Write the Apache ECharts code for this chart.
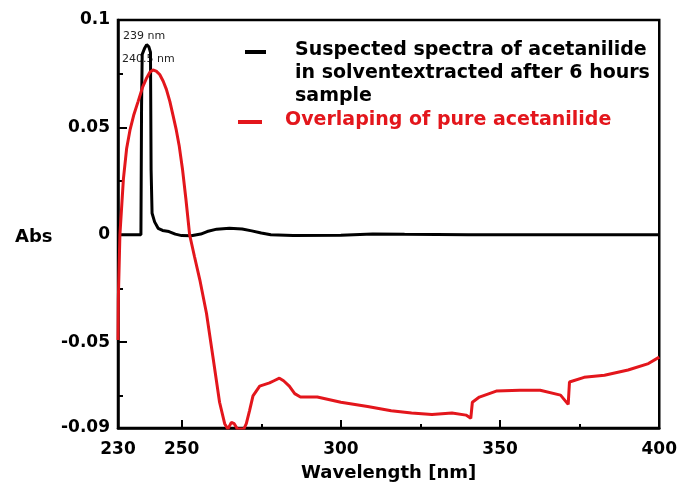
<!DOCTYPE html>
<html><head><meta charset="utf-8">
<script src="https://cdn.jsdelivr.net/npm/echarts@6/dist/echarts.min.js"></script>
<style>html,body{margin:0;padding:0;background:#fff}#c{width:680px;height:487px}</style>
</head><body><div id="c"></div>
<script>
// ---- data ----
const seriesNames = [
  'Suspected spectra of acetanilide in solventextracted after 6 hours sample',
  'Overlaping of pure acetanilide'
];
const legendLines1 = ['Suspected spectra of acetanilide', 'in solventextracted after 6 hours', 'sample'];
const legendLine2 = 'Overlaping of pure acetanilide';
const peakLabels = ['239 nm', '240.5 nm'];
const xTickLabels = [230, 250, 300, 350, 400];
const xMinorTicks = [275, 325, 375];
const yTickLabels = [0.1, 0.05, 0, -0.05, -0.09];
const yMinorTicks = [0.075, 0.025, -0.025, -0.075];

const suspected = [
  [230,0],[237.2,0],[237.4,0.06],[237.6,0.084],[238.4,0.087],[239,0.0885],[239.7,0.0875],[240.2,0.085],
  [240.4,0.03],[240.7,0.01],[241.5,0.006],[242.6,0.003],[244,0.002],[246,0.0015],[248,0.0003],[250,-0.0004],
  [253,-0.0005],[256,0.0003],[258,0.0015],[261,0.0026],[265,0.003],[269,0.0027],[272,0.0018],[275,0.0008],
  [278,0],[285,-0.0004],[300,-0.0002],[310,0.0004],[320,0.0002],[340,0],[360,0],[380,0],[400,0]
];
const pure = [
  [230,-0.049],[230.1,-0.03],[230.6,0],[231.7,0.026],[232.7,0.04],[233.8,0.049],[235,0.056],[236.3,0.062],
  [237.8,0.069],[239,0.073],[240,0.0757],[241,0.0767],[242,0.0762],[243.1,0.0746],[244.2,0.0715],[245.2,0.0677],
  [246.3,0.062],[247.3,0.0555],[248.3,0.0488],[249.2,0.0416],[250.3,0.03],[251.3,0.017],[252.5,0],[254,-0.01],
  [255.7,-0.021],[257.8,-0.0367],[259.8,-0.0567],[261.9,-0.078],[263.5,-0.088],[264.5,-0.0905],[265.6,-0.0874],
  [266.5,-0.088],[267.5,-0.0905],[269.5,-0.0905],[270.3,-0.088],[271.3,-0.082],[272.4,-0.075],[274.5,-0.0705],
  [277.6,-0.069],[279,-0.068],[280.7,-0.0668],[282,-0.068],[283.8,-0.0705],[285.5,-0.074],[287.3,-0.0756],
  [292.6,-0.0756],[300,-0.078],[308.4,-0.080],[315.8,-0.082],[322.2,-0.083],[328.6,-0.0837],[334.9,-0.083],
  [339.3,-0.084],[340.8,-0.0855],[341.3,-0.078],[343.5,-0.0756],[348.8,-0.0728],[356.2,-0.0724],[362.6,-0.0724],
  [369,-0.0747],[371.4,-0.079],[371.8,-0.0686],[376.4,-0.0664],[382.8,-0.0654],[390.2,-0.063],[396.6,-0.060],
  [400,-0.057]
];

const RED = '#e3161c';
const FONT = 'DejaVu Sans';
const chart = echarts.init(document.getElementById('c'), null, {renderer:'canvas'});
const lab = {fontFamily: FONT, fontWeight: 'bold', fontSize: 17, color: '#000'};
const grid = {left:118, right:19, top:20, bottom:56, show:true, borderColor:'#000', borderWidth:2.5};
chart.setOption({
  animation: false,
  backgroundColor: '#fff',
  grid: grid,
  xAxis: [
    {type:'value', min:230, max:400, position:'bottom',
     axisLine:{onZero:false, lineStyle:{color:'#000', width:2.5}},
     axisTick:{inside:true, length:8, customValues:[250,300,350], lineStyle:{color:'#000', width:2}},
     axisLabel:Object.assign({margin:13, customValues:xTickLabels}, lab),
     splitLine:{show:false},
     name:'Wavelength [nm]', nameLocation:'middle', nameGap:36,
     nameTextStyle:{fontFamily:FONT, fontWeight:'bold', fontSize:18, color:'#000'}},
    {type:'value', min:230, max:400, position:'bottom',
     axisLine:{show:false, onZero:false},
     axisTick:{inside:true, length:4, customValues:xMinorTicks, lineStyle:{color:'#000', width:2}},
     axisLabel:{show:false}, splitLine:{show:false}}
  ],
  yAxis: [
    {type:'value', min:-0.09, max:0.1, position:'left',
     axisLine:{show:true, onZero:false, lineStyle:{color:'#000', width:2.5}},
     axisTick:{show:true, inside:true, length:9, customValues:[0.05,0,-0.05], lineStyle:{color:'#000', width:2}},
     axisLabel:Object.assign({margin:8, customValues:yTickLabels}, lab),
     splitLine:{show:false}},
    {type:'value', min:-0.09, max:0.1, position:'left',
     axisLine:{show:false, onZero:false},
     axisTick:{show:true, inside:true, length:5, customValues:yMinorTicks, lineStyle:{color:'#000', width:2}},
     axisLabel:{show:false}, splitLine:{show:false}}
  ],
  series: [
    {name:seriesNames[0], type:'line', data:suspected, showSymbol:false, clip:true,
     lineStyle:{color:'#000', width:3}, itemStyle:{color:'#000'}},
    {name:seriesNames[1], type:'line', data:pure, showSymbol:false, clip:true,
     lineStyle:{color:RED, width:3}, itemStyle:{color:RED}}
  ],
  graphic: [
    {type:'text', left:15, top:228, style:{text:'Abs', fontFamily:FONT, fontWeight:'bold', fontSize:18, fill:'#000'}},
    {type:'text', x:123, y:36, style:{text:peakLabels[0], fontFamily:FONT, fontSize:11, fill:'#222', verticalAlign:'middle'}},
    {type:'text', x:122, y:59, style:{text:peakLabels[1], fontFamily:FONT, fontSize:11, fill:'#222', verticalAlign:'middle'}},
    {type:'rect', shape:{x:245, y:50, width:21, height:4}, style:{fill:'#000'}},
    {type:'text', x:295, y:50, style:{text:legendLines1[0], fontFamily:FONT, fontWeight:'bold', fontSize:19, fill:'#000', verticalAlign:'middle'}},
    {type:'text', x:295, y:73, style:{text:legendLines1[1], fontFamily:FONT, fontWeight:'bold', fontSize:19, fill:'#000', verticalAlign:'middle'}},
    {type:'text', x:295, y:96, style:{text:legendLines1[2], fontFamily:FONT, fontWeight:'bold', fontSize:19, fill:'#000', verticalAlign:'middle'}},
    {type:'rect', shape:{x:238, y:120, width:24, height:4}, style:{fill:RED}},
    {type:'text', x:285, y:120, style:{text:legendLine2, fontFamily:FONT, fontWeight:'bold', fontSize:19, fill:RED, verticalAlign:'middle'}}
  ]
});
</script></body></html>
